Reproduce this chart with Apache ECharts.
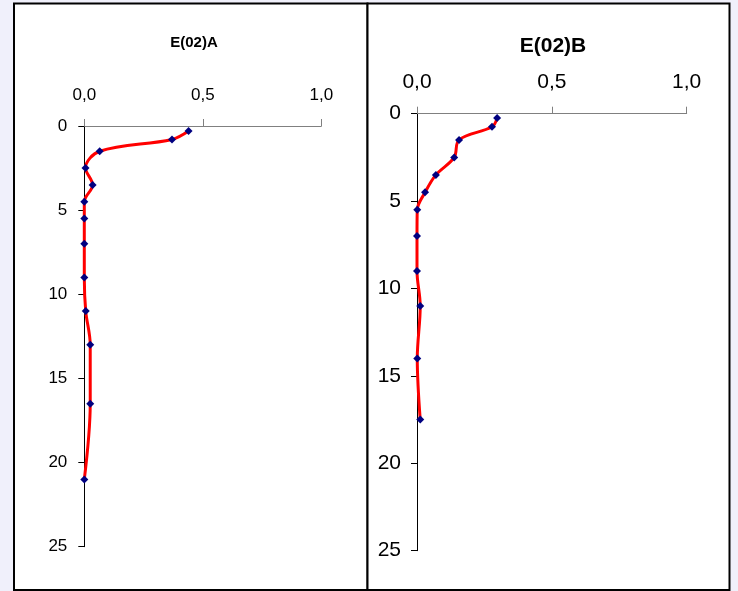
<!DOCTYPE html>
<html>
<head>
<meta charset="utf-8">
<script src="https://cdn.jsdelivr.net/npm/echarts@6/dist/echarts.min.js"></script>
<style>
html,body{margin:0;padding:0;background:#f0f0fb;}
#c{width:738px;height:591px;}
</style>
</head>
<body>
<div id="c"></div>
<script>
// Data: depth (y) and value (x) for each profile
const titleA = "E(02)A";
const titleB = "E(02)B";
const depthA = [0.3, 0.8, 1.5, 2.5, 3.5, 4.5, 5.5, 7, 9, 11, 13, 16.5, 21];
const valueA = [0.44, 0.37, 0.065, 0.005, 0.035, 0.0, 0.0, 0.0, 0.0, 0.006, 0.025, 0.025, 0.0];
const depthB = [0.25, 0.75, 1.5, 2.5, 3.5, 4.5, 5.5, 7, 9, 11, 14, 17.5];
const valueB = [0.297, 0.278, 0.156, 0.138, 0.07, 0.03, 0.001, 0.0, 0.0, 0.012, 0.001, 0.012];
const xTicks = [0, 0.5, 1.0];
const yTicks = [0, 5, 10, 15, 20, 25];

const font = "Liberation Sans, Arial, sans-serif";
const fmtX = v => v.toFixed(1).replace('.', ',');

function xAxis(idx, size) {
  return {
    type: 'value', gridIndex: idx, position: 'top', min: xTicks[0], max: xTicks[xTicks.length-1], interval: 0.5,
    axisLine: {show: true, onZero: false, lineStyle: {color: '#808080', width: 1}},
    axisTick: {show: true, length: 7, lineStyle: {color: '#808080'}},
    axisLabel: {formatter: fmtX, fontSize: size, color: '#000', fontFamily: font, margin: idx === 0 ? 22 : 21},
    splitLine: {show: false}
  };
}
function yAxis(idx, size) {
  return {
    type: 'value', gridIndex: idx, inverse: true, min: yTicks[0], max: yTicks[yTicks.length-1], interval: 5,
    axisLine: {show: true, onZero: false, lineStyle: {color: '#000', width: 1}},
    axisTick: {show: true, length: 6, lineStyle: {color: '#000'}},
    axisLabel: {fontSize: size, color: '#000', fontFamily: font, margin: idx === 0 ? 17 : 16},
    splitLine: {show: false}
  };
}
function series(idx, xs, ys) {
  return {
    type: 'line', xAxisIndex: idx, yAxisIndex: idx,
    data: xs.map((v, i) => [v, ys[i]]),
    smooth: 0.35,
    lineStyle: {color: '#ff0000', width: 3},
    symbol: 'diamond', symbolSize: 8,
    itemStyle: {color: '#000080'},
    z: 3
  };
}

const chart = echarts.init(document.getElementById('c'), null, {renderer: 'canvas'});
chart.setOption({
  animation: false,
  backgroundColor: 'transparent',
  title: [
    {text: titleA, left: 189, top: 30, textAlign: 'center',
     textStyle: {fontSize: 15, fontWeight: 'bold', color: '#000', fontFamily: font}},
    {text: titleB, left: 548, top: 31, textAlign: 'center',
     textStyle: {fontSize: 21, fontWeight: 'bold', color: '#000', fontFamily: font}}
  ],
  graphic: [
    {type: 'rect', shape: {x: 14, y: 3.5, width: 353.5, height: 586.5}, style: {fill: '#ffffff', stroke: '#000', lineWidth: 2}, z: -10},
    {type: 'rect', shape: {x: 367.5, y: 3.5, width: 362, height: 586.5}, style: {fill: '#ffffff', stroke: '#000', lineWidth: 2}, z: -10}
  ],
  grid: [
    {left: 84.3, top: 126, width: 237, height: 420.7},
    {left: 417, top: 113.7, width: 269.7, height: 437}
  ],
  xAxis: [xAxis(0, 17), xAxis(1, 21)],
  yAxis: [yAxis(0, 17), yAxis(1, 21)],
  series: [series(0, valueA, depthA), series(1, valueB, depthB)]
});
</script>
</body>
</html>
